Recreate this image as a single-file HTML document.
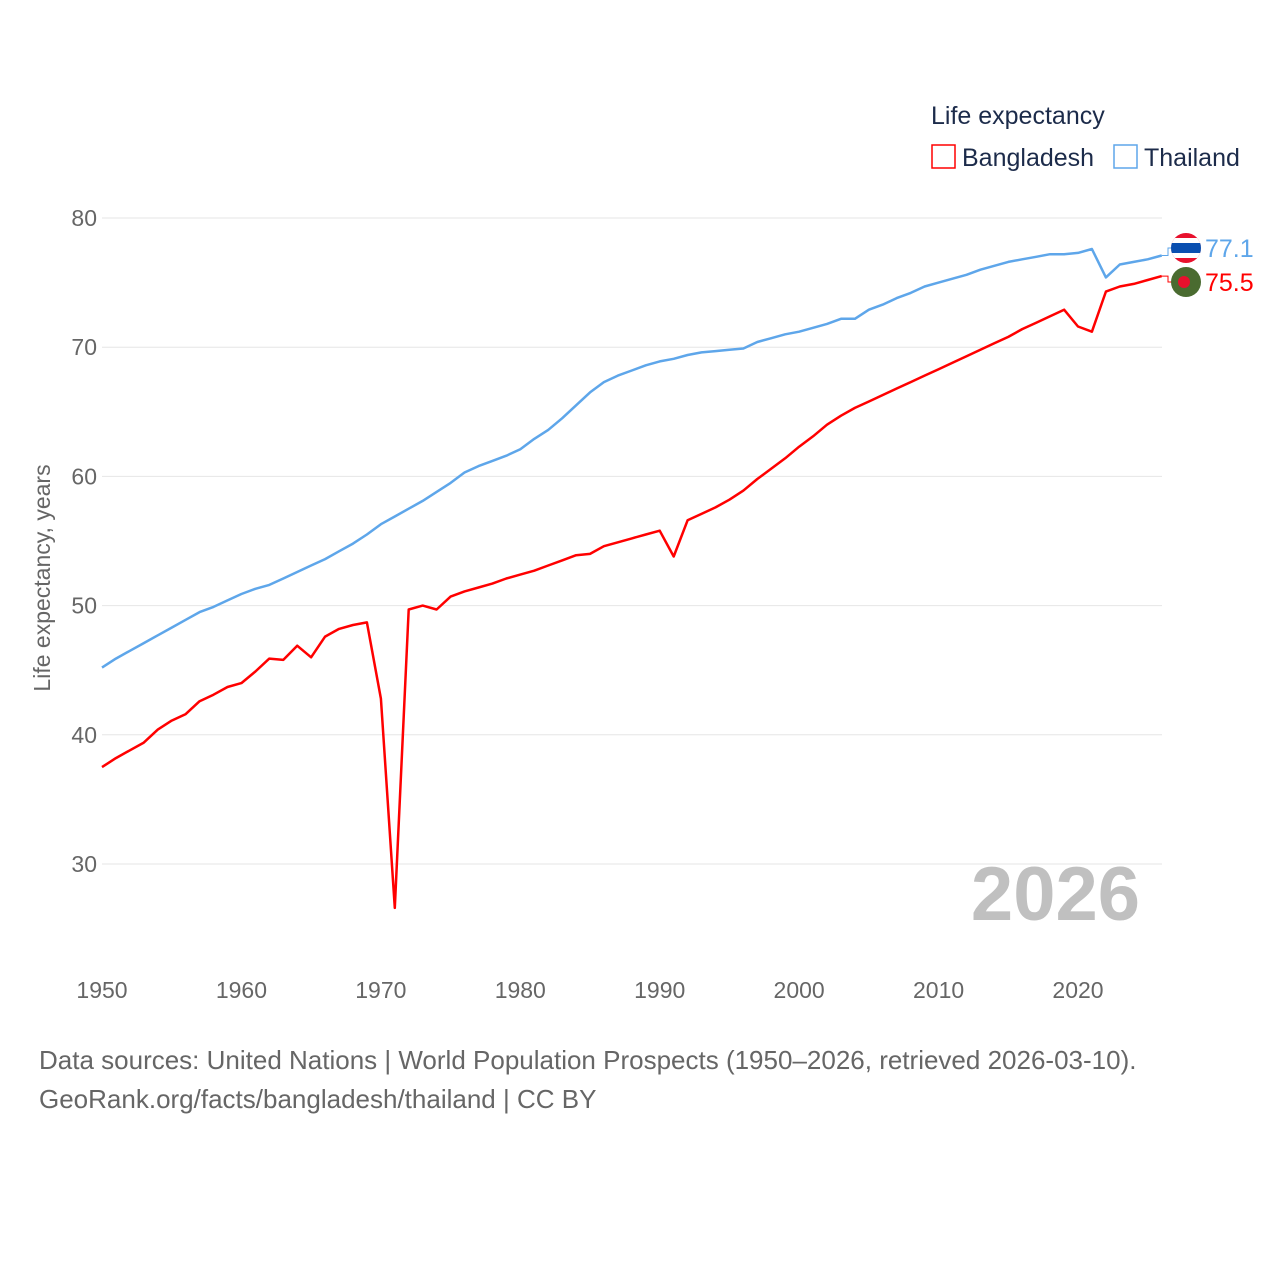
<!DOCTYPE html>
<html><head><meta charset="utf-8">
<style>
body{margin:0;background:#fff;font-family:"Liberation Sans",sans-serif;}
svg text{font-family:"Liberation Sans",sans-serif;}
</style></head>
<body>
<svg id="chart" width="1280" height="1280" viewBox="0 0 1280 1280">
<g>
<text x="931" y="124" font-size="25" fill="#1c2b4a">Life expectancy</text>
<rect x="932" y="145" width="23" height="23" fill="none" stroke="#ff0000" stroke-width="1.5"/>
<text x="962" y="166" font-size="25" fill="#1c2b4a">Bangladesh</text>
<rect x="1114" y="145" width="23" height="23" fill="none" stroke="#5ea6ea" stroke-width="1.5"/>
<text x="1144" y="166" font-size="25" fill="#1c2b4a">Thailand</text>
</g>
<g id="grid"></g>
<g id="xaxis"></g>
<text x="1140" y="920" font-size="76" font-weight="bold" fill="#c0c0c0" text-anchor="end">2026</text>
<text transform="translate(50,578) rotate(-90)" font-size="23" fill="#666" text-anchor="middle">Life expectancy, years</text>
<g id="series"></g>
<text x="39" y="1069" font-size="26" fill="#666">Data sources: United Nations | World Population Prospects (1950–2026, retrieved 2026-03-10).</text>
<text x="39" y="1108" font-size="26" fill="#666">GeoRank.org/facts/bangladesh/thailand | CC BY</text>
</svg>
<script>
const years=[];for(let y=1950;y<=2026;y++)years.push(y);
const bangladesh=[37.5,38.2,38.8,39.4,40.4,41.1,41.6,42.6,43.1,43.7,44.0,44.9,45.9,45.8,46.9,46.0,47.6,48.2,48.5,48.7,42.8,26.6,49.7,50.0,49.7,50.7,51.1,51.4,51.7,52.1,52.4,52.7,53.1,53.5,53.9,54.0,54.6,54.9,55.2,55.5,55.8,53.8,56.6,57.1,57.6,58.2,58.9,59.8,60.6,61.4,62.3,63.1,64.0,64.7,65.3,65.8,66.3,66.8,67.3,67.8,68.3,68.8,69.3,69.8,70.3,70.8,71.4,71.9,72.4,72.9,71.6,71.2,74.3,74.7,74.9,75.2,75.5];
const thailand=[45.2,45.9,46.5,47.1,47.7,48.3,48.9,49.5,49.9,50.4,50.9,51.3,51.6,52.1,52.6,53.1,53.6,54.2,54.8,55.5,56.3,56.9,57.5,58.1,58.8,59.5,60.3,60.8,61.2,61.6,62.1,62.9,63.6,64.5,65.5,66.5,67.3,67.8,68.2,68.6,68.9,69.1,69.4,69.6,69.7,69.8,69.9,70.4,70.7,71.0,71.2,71.5,71.8,72.2,72.2,72.9,73.3,73.8,74.2,74.7,75.0,75.3,75.6,76.0,76.3,76.6,76.8,77.0,77.2,77.2,77.3,77.6,75.4,76.4,76.6,76.8,77.1];
const yTicks=[30,40,50,60,70,80];
const xTicks=[1950,1960,1970,1980,1990,2000,2010,2020];
const X=y=>102+(y-1950)*(976/70);
const Y=v=>218+(80-v)*12.92;
const NS='http://www.w3.org/2000/svg';
function mk(tag,attrs,parent){const e=document.createElementNS(NS,tag);for(const k in attrs)e.setAttribute(k,attrs[k]);parent.appendChild(e);return e;}
const grid=document.getElementById('grid'),xa=document.getElementById('xaxis'),sg=document.getElementById('series');
yTicks.forEach(t=>{
 const l=mk('line',{x1:102,x2:1162,y1:Y(t),y2:Y(t),stroke:'#e6e6e6','stroke-width':1},grid);
 
 
 const tx=mk('text',{x:97,y:Y(t)+8,'font-size':23,fill:'#666','text-anchor':'end'},grid);
 tx.textContent=t;
 
 
});
xTicks.forEach(t=>{
 const tx=mk('text',{x:X(t),y:998,'font-size':23,fill:'#666','text-anchor':'middle'},xa);
 tx.textContent=t;
 
 
});
function line(vals,color,name){
 const d=vals.map((v,i)=>(i?'L':'M')+X(years[i]).toFixed(1)+' '+Y(v).toFixed(1)).join(' ');
 const p=mk('path',{d:d,fill:'none',stroke:color,'stroke-width':2.5,'stroke-linejoin':'round'},sg);
 
 
}
line(thailand,'#5ea6ea','line-thailand');
line(bangladesh,'#ff0000','line-bangladesh');
function endLabel(v,labelY,color,name,flag){
 const x0=X(2026),y0=Y(v);
 const c=mk('path',{d:`M${x0} ${y0} H1168 V${labelY} H1172`,fill:'none',stroke:color,'stroke-width':1},sg);
 
 
 const g=mk('g',{},sg);
 
 
 flag(g,1186,labelY);
 const t=mk('text',{x:1205,y:labelY+9,'font-size':25,fill:color},sg);
 t.textContent=v.toFixed(1);
 
 
}
endLabel(thailand[thailand.length-1],248,'#5ea6ea','thailand',(g,cx,cy)=>{
 const cp=mk('clipPath',{id:'cpT'},g);mk('circle',{cx:cx,cy:cy,r:15},cp);
 const gg=mk('g',{'clip-path':'url(#cpT)'},g);
 mk('rect',{x:cx-15,y:cy-15,width:30,height:30,fill:'#e8112d'},gg);
 mk('rect',{x:cx-15,y:cy-10,width:30,height:20,fill:'#fff'},gg);
 mk('rect',{x:cx-15,y:cy-5,width:30,height:10,fill:'#0a4fb0'},gg);
});
endLabel(bangladesh[bangladesh.length-1],282,'#ff0000','bangladesh',(g,cx,cy)=>{
 mk('circle',{cx:cx,cy:cy,r:15,fill:'#4a6b30'},g);
 mk('circle',{cx:cx-2,cy:cy,r:6,fill:'#e8112d'},g);
});
</script>
</body></html>
